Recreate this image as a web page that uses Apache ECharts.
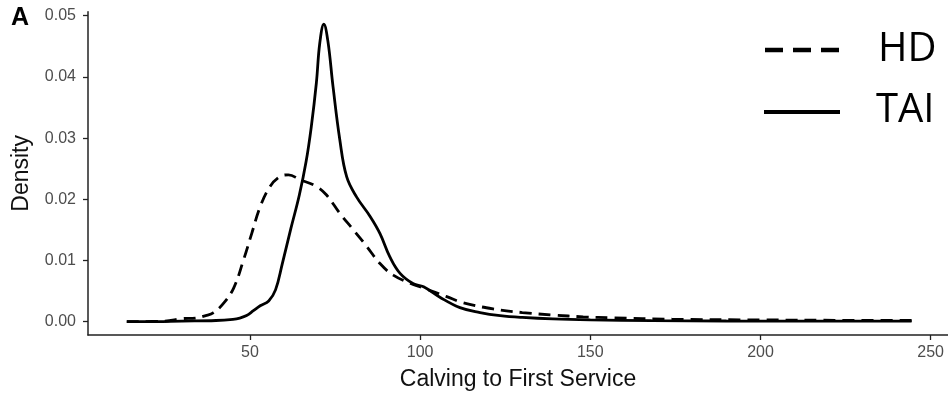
<!DOCTYPE html>
<html>
<head>
<meta charset="utf-8">
<script src="https://cdn.jsdelivr.net/npm/echarts@6/dist/echarts.min.js"></script>
<style>
html,body{margin:0;padding:0;background:#fff;}
#chart{width:948px;height:394px;}
</style>
</head>
<body>
<div id="chart"></div>
<script>
// Calving to First Service (days) and density for each group
var xHD = [13.8, 25, 30, 34, 37, 39.3, 42.2, 45.2, 48.1, 50.5, 53, 55.9, 58.8, 61.3, 64.7, 69.5, 72.5, 76.4, 80.4, 84.3, 88.2, 92.1, 97, 101, 107.8, 112.6, 121.4, 130, 139, 147.9, 156.7, 174, 200, 225, 244.4];
var densityHD = [0, 0.0001, 0.0005, 0.0006, 0.0010, 0.0015, 0.0030, 0.0055, 0.0101, 0.0144, 0.0188, 0.0221, 0.0237, 0.0240, 0.0232, 0.0221, 0.0207, 0.0177, 0.0150, 0.0123, 0.0095, 0.0076, 0.0063, 0.0055, 0.0041, 0.0031, 0.0021, 0.0015, 0.0011, 0.0008, 0.00065, 0.0004, 0.0003, 0.00022, 0.0002];

var xTAI = [13.8, 20, 30, 40, 45, 47, 49, 51, 53, 55.5, 57.5, 59.5, 62, 64.5, 66.5, 68, 69.5, 70.5, 71.7, 72.9, 74.4, 76.4, 78.4, 81.3, 85.3, 88.2, 91.1, 94.1, 98, 101, 105.8, 111.7, 117.6, 123.5, 130, 139, 150, 168, 190, 220, 244.4];
var densityTAI = [0, 0, 0.0001, 0.0002, 0.0004, 0.0006, 0.0010, 0.0018, 0.0026, 0.0034, 0.0052, 0.0095, 0.0152, 0.0207, 0.0262, 0.0318, 0.0390, 0.0455, 0.0486, 0.0458, 0.0384, 0.0297, 0.0237, 0.0204, 0.0172, 0.0144, 0.0106, 0.0079, 0.0062, 0.0057, 0.0040, 0.0023, 0.0015, 0.0010, 0.0007, 0.00045, 0.0003, 0.00018, 0.00012, 0.0001, 0.0001];

var xTicks = [50, 100, 150, 200, 250];
var yTicks = [0, 0.01, 0.02, 0.03, 0.04, 0.05];
var seriesNames = ['HD', 'TAI'];

function pairs(xs, ys) { return xs.map(function (x, i) { return [x, ys[i]]; }); }

var chart = echarts.init(document.getElementById('chart'), null, {renderer: 'canvas'});
var font = 'Liberation Sans, Arial, Helvetica, sans-serif';
chart.setOption({
  animation: false,
  backgroundColor: '#ffffff',
  grid: {left: 88, right: 0, top: 11.7, bottom: 59, containLabel: false, outerBoundsMode: 'none'},
  xAxis: {
    type: 'value', min: 2.4, max: 255.1,
    name: 'Calving to First Service', nameLocation: 'middle', nameGap: 33,
    nameTextStyle: {fontFamily: font, fontSize: 23, color: '#111'},
    axisLine: {show: true, onZero: false, lineStyle: {color: '#222', width: 1.5}},
    axisTick: {show: true, length: 5, customValues: xTicks, lineStyle: {color: '#222', width: 1.3}},
    axisLabel: {customValues: xTicks, fontFamily: font, fontSize: 16, color: '#4d4d4d', margin: 10},
    splitLine: {show: false}
  },
  yAxis: {
    type: 'value', min: -0.00217, max: 0.05065,
    name: 'Density', nameLocation: 'middle', nameGap: 55, nameRotate: 90,
    nameTextStyle: {fontFamily: font, fontSize: 23, color: '#111'},
    axisLine: {show: true, onZero: false, lineStyle: {color: '#222', width: 1.5}},
    axisTick: {show: true, length: 5, customValues: yTicks, lineStyle: {color: '#222', width: 1.3}},
    axisLabel: {customValues: yTicks, fontFamily: font, fontSize: 16, color: '#4d4d4d', margin: 12,
      formatter: function (v) { return v.toFixed(2); }},
    splitLine: {show: false}
  },
  series: [
    {name: seriesNames[0], type: 'line', data: pairs(xHD, densityHD), showSymbol: false, symbol: 'none',
     smooth: 0.4, lineStyle: {color: '#000', width: 2.8, type: [12, 7]}},
    {name: seriesNames[1], type: 'line', data: pairs(xTAI, densityTAI), showSymbol: false, symbol: 'none',
     smooth: 0.4, lineStyle: {color: '#000', width: 2.8}}
  ],
  graphic: [
    {type: 'text', left: 11, top: 6, style: {text: 'A', font: 'bold 25px ' + font, fill: '#000'}},
    {type: 'line', shape: {x1: 765, y1: 50, x2: 840, y2: 50}, style: {stroke: '#000', lineWidth: 4.5, lineDash: [18, 10]}},
    {type: 'text', x: 878, y: 50, style: {text: seriesNames[0], font: '40px "Open Sans", "Noto Sans", sans-serif', fill: '#000', textVerticalAlign: 'middle'}},
    {type: 'line', shape: {x1: 764, y1: 112, x2: 840, y2: 112}, style: {stroke: '#000', lineWidth: 4}},
    {type: 'text', x: 876, y: 111, style: {text: seriesNames[1], font: '40px "Open Sans", "Noto Sans", sans-serif', fill: '#000', textVerticalAlign: 'middle'}}
  ]
});
</script>
</body>
</html>
